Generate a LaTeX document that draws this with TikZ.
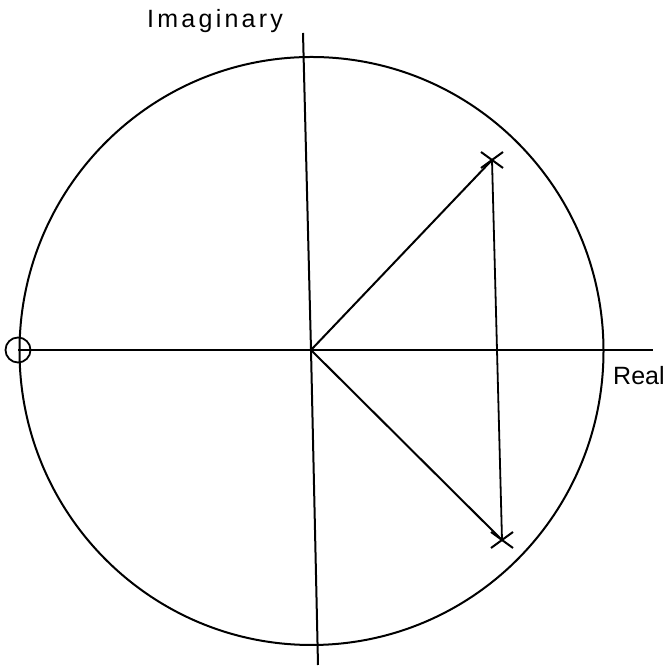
\documentclass[tikz,border=0pt]{standalone}
\usepackage{fontspec}
\setmainfont{Liberation Sans}
\newfontfamily\spacedfont[LetterSpace=13]{Liberation Sans}
\usetikzlibrary{calc}
\begin{document}
\begin{tikzpicture}[x=1pt,y=1pt,
  ln/.style={line width=2pt,black},
  pole/.style={line width=2pt},
  lbl/.style={font=\fontsize{25}{28}\selectfont, inner sep=0pt, anchor=base west}]
\useasboundingbox (0,0) rectangle (669,668);
% unit circle
\draw[ln] (311.5,317) ellipse [x radius=292, y radius=294];
% coordinates
\coordinate (O) at (311,318);
\coordinate (p1) at (492,508);
\coordinate (p2) at (502,128);
\coordinate (ax) at (653,318);
\coordinate (yt) at (303,635);
\coordinate (yb) at (318,3);
\node[draw, circle, line width=1.8pt, minimum size=25pt, inner sep=0pt] (z) at (18,318) {};
% axes
\draw[ln] (z.center) -- (ax);
\draw[ln] (yt) -- (O) -- (yb);
% lines to poles
\draw[ln] (O) -- (p1);
\draw[ln] (O) -- (p2);
\draw[line width=1.8pt] (p1) -- (p2);
% pole crosses
\foreach \p in {p1,p2}{
  \draw[pole] ($(\p)+(-11,-8)$) -- ($(\p)+(11,8)$);
  \draw[pole] ($(\p)+(-11,8)$) -- ($(\p)+(11,-8)$);
}
% labels
\node[lbl] (im) at (147,640) {\spacedfont Imaginary};
\node[lbl] (re) at (613,283) {Real};
\end{tikzpicture}
\end{document}
